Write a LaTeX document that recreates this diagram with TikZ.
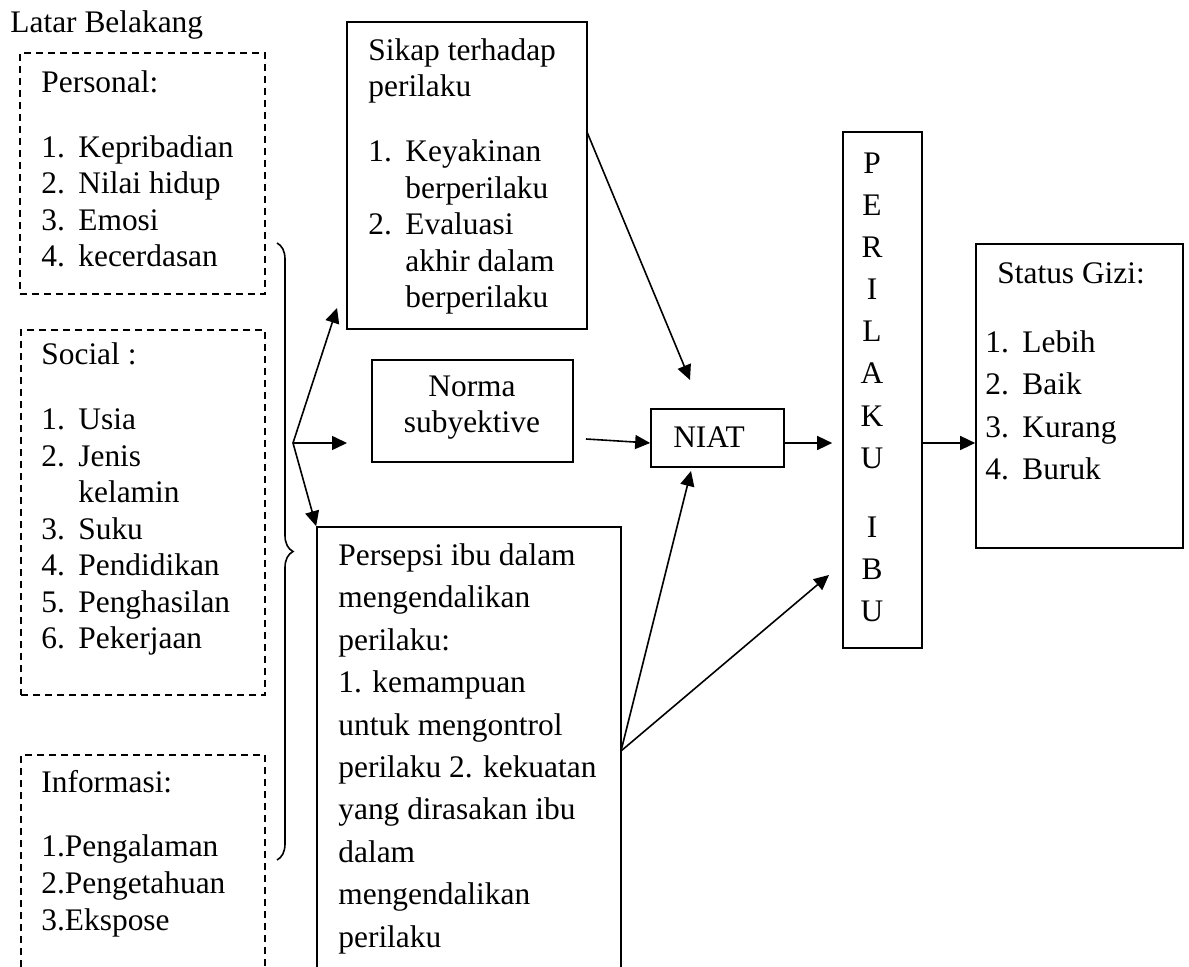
\documentclass[tikz,border=0pt]{standalone}
\usepackage{fontspec}
\setmainfont{Liberation Serif}
\usetikzlibrary{arrows.meta,positioning,fit,decorations.pathreplacing}
\newcommand{\itm}[2]{\makebox[18.5pt][l]{#1}#2}
\tikzset{
  frame/.style={draw,line width=0.85pt,inner sep=0pt},
  dashframe/.style={frame,dash pattern=on 3.5pt off 2.5pt},
  txt/.style={inner sep=0pt,align=left,anchor=base west,font=\fontsize{15.7pt}{18.3pt}\selectfont},
  txtwide/.style={txt,font=\fontsize{15.7pt}{21.2pt}\selectfont},
  link/.style={line width=0.8pt,-{Triangle[length=7.5pt,width=7pt]}},
  curly/.style={line width=0.8pt,decorate,decoration={brace,amplitude=8pt}}
}
\begin{document}
\begin{tikzpicture}[x=0.5pt,y=-0.5pt]
\useasboundingbox (0,0) rectangle (1189,967);
\clip (0,0) rectangle (1189,967);
% latar belakang (text nodes sit on the baseline of their last line)
\node[txt] (latar) at (10,33) {Latar Belakang};
\node[dashframe,fit={(20,53)(265,294)}] (personal) {};
\node[dashframe,fit={(21,330)(265,695)}] (social) {};
\node[dashframe,fit={(21,755)(265,1010)}] (informasi) {};
\node[txt] (personaltxt) at (41,267) {Personal:\\[14pt]
  \itm{1.}{Kepribadian}\\\itm{2.}{Nilai hidup}\\\itm{3.}{Emosi}\\\itm{4.}{kecerdasan}};
\node[txt] (socialtxt) at (41,649) {Social :\\[14pt]
  \itm{1.}{Usia}\\\itm{2.}{Jenis}\\\hspace*{18.5pt}kelamin\\\itm{3.}{Suku}\\
  \itm{4.}{Pendidikan}\\\itm{5.}{Penghasilan}\\\itm{6.}{Pekerjaan}};
\node[txt] (informasitxt) at (41,930) {Informasi:\\[14pt]
  1.Pengalaman\\2.Pengetahuan\\3.Ekspose};
\draw[curly] (277,243) -- (277,860);
\coordinate (fork) at (293,443);
% komponen niat
\node[frame,fit={(347,22)(587,329)}] (sikap) {};
\node[txt] (sikaptxt) at (368,308) {Sikap terhadap\\perilaku\\[14pt]
  \itm{1.}{Keyakinan}\\\hspace*{18.5pt}berperilaku\\\itm{2.}{Evaluasi}\\
  \hspace*{18.5pt}akhir dalam\\\hspace*{18.5pt}berperilaku};
\node[frame,fit={(372,360)(573,462)}] (norma) {};
\node[txt,align=center,anchor=base] (normatxt) at (472,433) {Norma\\subyektive};
\node[frame,fit={(317,527)(621,1010)}] (persepsi) {};
\node[txtwide] (persepsitxt) at (338,947) {Persepsi ibu dalam\\mengendalikan\\perilaku:\\
  1. kemampuan\\untuk mengontrol\\perilaku 2. kekuatan\\yang dirasakan ibu\\dalam\\
  mengendalikan\\perilaku};
\node[frame,fit={(651,409)(784,467)}] (niat) {};
\node[txt,anchor=base] (niattxt) at (709,448) {NIAT};
\node[frame,fit={(843,132)(922,648)}] (perilaku) {};
\node[txt,align=center,anchor=base,font=\fontsize{15.7pt}{21.1pt}\selectfont] (perilakutxt) at (872,622)
  {P\\E\\R\\I\\L\\A\\K\\U\\[13.5pt]I\\B\\U};
\node[frame,fit={(976,244)(1183,548)}] (gizi) {};
\node[txt,font=\fontsize{15.7pt}{21.3pt}\selectfont] (gizitxt) at (985,480) {\hspace*{6pt}Status Gizi:\\[13pt]
  \itm{1.}{Lebih}\\\itm{2.}{Baik}\\\itm{3.}{Kurang}\\\itm{4.}{Buruk}};
% ujung panah
\coordinate (sikapin) at (337,308);
\coordinate (normain) at (347,443);
\coordinate (sikapout) at (587,132);
\coordinate (normaout) at (586,439);
\coordinate (niatabove) at (690,380);
\coordinate (niatbelow) at (691,471);
\coordinate (persepsiout) at (621,751);
\coordinate (perilakuin) at (829,575);
\coordinate (mainline) at (0,443);
\draw[link] (fork) -- (sikapin);
\draw[link] (fork) -- (normain);
\draw[link] (fork) -- (persepsi.north west);
\draw[link] (sikapout) -- (niatabove);
\draw[link] (normaout) -- (niat.west |- mainline);
\draw[link] (persepsiout) -- (niatbelow);
\draw[link] (persepsiout) -- (perilakuin);
\draw[link] (niat.east |- mainline) -- ([xshift=-5pt]perilaku.west |- mainline);
\draw[link] (perilaku.east |- mainline) -- (gizi.west |- mainline);
\end{tikzpicture}
\end{document}
